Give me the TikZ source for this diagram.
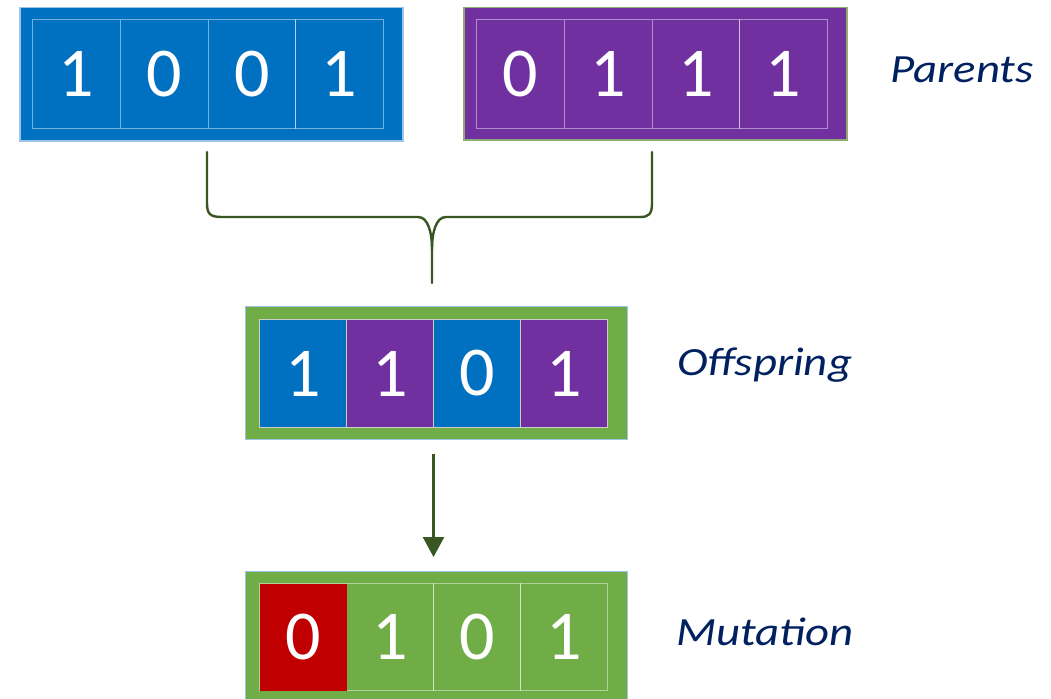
\documentclass[tikz,border=0pt]{standalone}
\usepackage{fontspec}
\setmainfont{Carlito}
\usetikzlibrary{arrows.meta}
\definecolor{cblue}{HTML}{0070C0}
\definecolor{cpurple}{HTML}{7030A0}
\definecolor{cgreen}{HTML}{70AD47}
\definecolor{cred}{HTML}{C00000}
\definecolor{cdark}{HTML}{385723}
\definecolor{cnavy}{HTML}{002060}
\definecolor{lblue}{HTML}{9DC3E6}
\definecolor{lolive}{HTML}{8FAA72}
\newcommand{\widetext}[1]{\scalebox{1.17}[1]{#1}}
\begin{document}
\begin{tikzpicture}[x=1pt,y=-1pt,
  outerbox/.style={rectangle, anchor=north west, inner sep=0pt, line width=1.5pt},
  cell/.style={rectangle, anchor=north west, inner sep=0pt, draw=white, draw opacity=0.45, line width=1pt,
    text=white, font=\fontsize{70}{70}\selectfont},
  pcell/.style={cell, minimum width=87.75pt, minimum height=109pt},
  ocell/.style={cell, minimum width=87pt, minimum height=108pt},
  lbl/.style={anchor=base west, inner sep=0pt, text=cnavy, font=\fontsize{40}{40}\selectfont\itshape},
  conn/.style={draw=cdark, line width=2.4pt}
]
\useasboundingbox (0,0) rectangle (1051,698);

% Parent 1
\node[outerbox, fill=cblue, draw=lblue, minimum width=383pt, minimum height=133pt] (p1) at (19,7) {};
\node[pcell, fill=cblue] (p1a) at (32,19) {1};
\node[pcell, fill=cblue] (p1b) at (119.75,19) {0};
\node[pcell, fill=cblue] (p1c) at (207.5,19) {0};
\node[pcell, fill=cblue] (p1d) at (295.25,19) {1};

% Parent 2
\node[outerbox, fill=cpurple, draw=lolive, minimum width=383pt, minimum height=132pt] (p2) at (463,7) {};
\node[pcell, fill=cpurple] (p2a) at (476,19) {0};
\node[pcell, fill=cpurple] (p2b) at (563.75,19) {1};
\node[pcell, fill=cpurple] (p2c) at (651.5,19) {1};
\node[pcell, fill=cpurple] (p2d) at (739.25,19) {1};

% Offspring
\node[outerbox, fill=cgreen, draw=lblue, line width=1pt, minimum width=382pt, minimum height=133pt] (off) at (245,306) {};
\node[ocell, fill=cblue, draw=gray!40, draw opacity=1] (oa) at (259,319) {1};
\node[ocell, fill=cpurple, draw=gray!40, draw opacity=1] (ob) at (346,319) {1};
\node[ocell, fill=cblue, draw=gray!40, draw opacity=1] (oc) at (433,319) {0};
\node[ocell, fill=cpurple, draw=gray!40, draw opacity=1] (od) at (520,319) {1};

% Mutation
\node[outerbox, fill=cgreen, draw=lblue, line width=1pt, minimum width=382pt, minimum height=133pt] (mut) at (245,571) {};
\node[ocell, fill=cgreen, minimum height=107pt] (ma) at (259,583) {0};
\node[ocell, fill=cgreen, minimum height=107pt] (mb) at (346,583) {1};
\node[ocell, fill=cgreen, minimum height=107pt] (mc) at (433,583) {0};
\node[ocell, fill=cgreen, minimum height=107pt] (md) at (520,583) {1};
\fill[cred] ([shift={(0.5pt,-0.5pt)}]ma.north west) rectangle ([shift={(-0.5pt,0.5pt)}]ma.south east);
\node[text=white, font=\fontsize{70}{70}\selectfont] at (ma.center) {0};

% Labels
\node[lbl] (lp) at (890,83) {\widetext{Parents}};
\node[lbl] (lo) at (677,375) {\widetext{Offspring}};
\node[lbl] (lm) at (676,645) {\widetext{Mutation}};

% Brace
\coordinate (bl) at (207,152);
\coordinate (br) at (652,152);
\coordinate (bm) at (432,250);
\coordinate (bt) at (432,283);
\draw[conn, line cap=round] (bl) -- (207,203) .. controls (207,214) and (210,217) .. (222,217) -- (418,217)
  .. controls (428,217) and (432,232) .. (bm) -- (bt);
\draw[conn, line cap=round] (br) -- (652,203) .. controls (652,214) and (649,217) .. (640,217) -- (446,217)
  .. controls (436,217) and (432,232) .. (bm);

% Arrow
\draw[conn, -{Triangle[width=21pt,length=20pt]}, shorten <=14pt, shorten >=14pt]
  ([xshift=-3pt]off.south) -- ([xshift=-3pt]mut.north);
\end{tikzpicture}
\end{document}
